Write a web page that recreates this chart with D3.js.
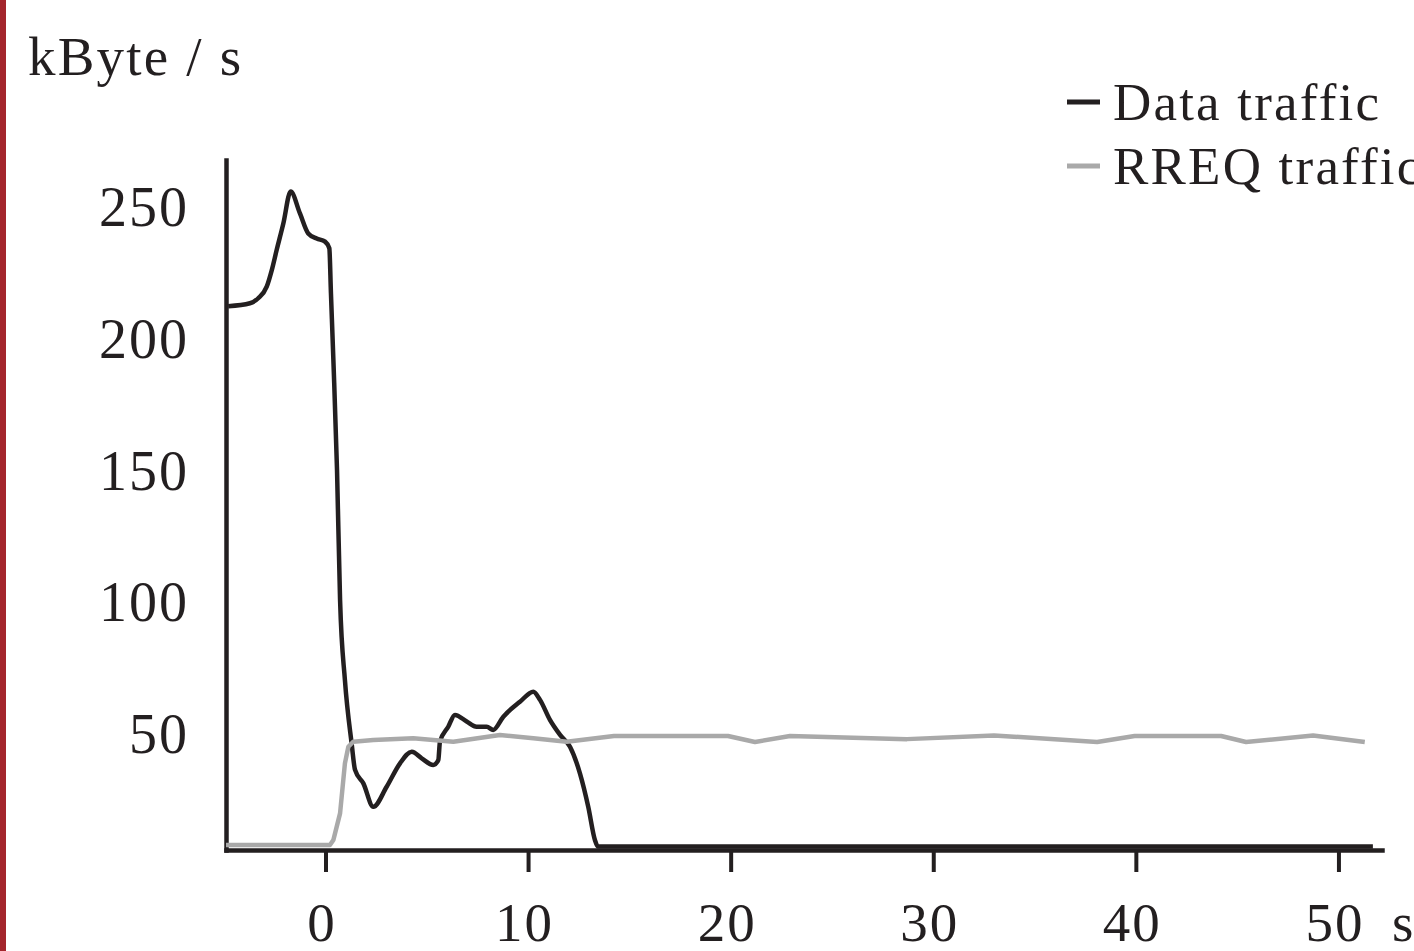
<!DOCTYPE html>
<html>
<head>
<meta charset="utf-8">
<script src="https://cdn.jsdelivr.net/npm/d3@7"></script>
<style>
  html, body { margin: 0; padding: 0; background: #fff; }
  svg { display: block; }
  text { font-family: "Liberation Serif", "Times New Roman", serif; fill: #231f20; }
</style>
</head>
<body>
<script>
// time in seconds, throughput in kByte/s
const dataTime = [-4.8, -3.73, -3.32, -2.9, -2.65, -2.41, -2.08, -1.72, -1.26, -0.85, -0.43, -0.02, 0.19, 0.27, 0.39, 0.57, 0.72, 0.96, 1.29, 1.46, 1.87, 2.36, 3.02, 3.68, 4.26, 4.75, 5.32, 5.57, 5.65, 6.06, 6.39, 6.97, 7.46, 7.96, 8.28, 8.78, 9.6, 10.26, 10.59, 11.08, 11.58, 12.07, 12.56, 12.97, 13.3, 13.45, 51.7];
const dataValue = [212.5, 213.6, 215.5, 219.9, 226.2, 233.8, 243.9, 256, 247.7, 240.1, 238.2, 237, 234.5, 217.4, 192.1, 150.3, 101, 70.5, 46.5, 36.4, 31.3, 22.4, 30, 38.9, 43.3, 40.8, 38.3, 40.2, 47.1, 52.8, 57.3, 54.8, 52.8, 52.8, 51.6, 56.6, 62.3, 66.1, 63, 55.4, 49.7, 45.2, 35.1, 22.4, 9.8, 7.3, 7.3];

const rreqTime = [-4.91, 0.22, 0.39, 0.72, 0.96, 1.13, 1.37, 2.36, 4.33, 6.31, 8.61, 10.26, 11.91, 14.24, 19.87, 21.2, 22.93, 28.7, 33.0, 38.09, 39.94, 44.21, 45.44, 48.75, 51.3];
const rreqValue = [7.9, 7.9, 9.8, 19.9, 38.9, 45.2, 47.1, 47.8, 48.4, 47.1, 49.7, 48.4, 47.1, 49.3, 49.3, 47, 49.3, 48.1, 49.5, 47, 49.3, 49.3, 47, 49.5, 47];

const xTicks = [0, 10, 20, 30, 40, 50];
const yTicks = [50, 100, 150, 200, 250];
const seriesNames = ["Data traffic", "RREQ traffic"];
const seriesColors = ["#231f20", "#a9a9a9"];

const W = 1414, H = 951;
const ink = "#231f20";

const svg = d3.select("body").append("svg")
  .attr("width", W)
  .attr("height", H);

// red strip on the left edge
svg.append("rect")
  .attr("x", 0).attr("y", 0)
  .attr("width", 6).attr("height", H)
  .attr("fill", "#a4262c");

const x = d3.scaleLinear().domain([-4.91, 52.15]).range([226, 1382]);
const y = d3.scaleLinear().domain([6, 268]).range([850, 160]);

// x axis
const xAxis = svg.append("g")
  .attr("transform", `translate(0,${y(6)})`)
  .call(d3.axisBottom(x).tickValues(xTicks).tickSize(22).tickSizeOuter(0).tickFormat(d3.format("d")));
xAxis.select(".domain").attr("stroke", ink).attr("stroke-width", 4.5).attr("stroke-linecap", "square");
xAxis.selectAll(".tick line").attr("stroke", ink).attr("stroke-width", 4);
xAxis.selectAll(".tick text")
  .attr("dy", null).attr("y", 91).attr("dx", -4)
  .attr("fill", ink)
  .style("font-size", "55px")
  .style("font-family", '"Liberation Serif", serif')
  .style("letter-spacing", "2px");

svg.append("text")
  .attr("x", x.range()[1] + 10)
  .attr("y", y(6) + 91)
  .style("font-size", "55px")
  .text("s");

// y axis
const yAxis = svg.append("g")
  .attr("transform", `translate(${x(-4.91)},0)`)
  .call(d3.axisLeft(y).tickValues(yTicks).tickSize(0).tickPadding(37).tickSizeOuter(0));
yAxis.select(".domain").attr("stroke", ink).attr("stroke-width", 4.5).attr("stroke-linecap", "square");
yAxis.selectAll(".tick text")
  .attr("fill", ink)
  .attr("dy", "0.33em")
  .style("font-size", "56px")
  .style("font-family", '"Liberation Serif", serif')
  .style("letter-spacing", "2px");

svg.append("text")
  .attr("x", 28).attr("y", 75)
  .style("font-size", "55px")
  .style("letter-spacing", "2.2px")
  .text("kByte / s");

// lines
const line = d3.line()
  .x(d => x(d[0]))
  .y(d => y(d[1]));

const dataPts = d3.zip(dataTime, dataValue);
const rreqPts = d3.zip(rreqTime, rreqValue);

svg.append("path")
  .datum(dataPts)
  .attr("fill", "none")
  .attr("stroke", seriesColors[0])
  .attr("stroke-width", 4.5)
  .attr("stroke-linejoin", "round")
  .attr("d", line.curve(d3.curveMonotoneX));

svg.append("path")
  .datum(rreqPts)
  .attr("fill", "none")
  .attr("stroke", seriesColors[1])
  .attr("stroke-width", 4.5)
  .attr("stroke-linejoin", "round")
  .attr("d", line.curve(d3.curveLinear));

// legend
const legend = svg.append("g").attr("transform", "translate(1067,102)");
seriesNames.forEach((name, i) => {
  const g = legend.append("g").attr("transform", `translate(0,${i * 64})`);
  g.append("line")
    .attr("x1", 0).attr("x2", 33)
    .attr("stroke", seriesColors[i])
    .attr("stroke-width", 5);
  g.append("text")
    .attr("x", 46).attr("y", 18)
    .style("font-size", "53px")
    .style("letter-spacing", "2.2px")
    .text(name);
});
</script>
</body>
</html>
